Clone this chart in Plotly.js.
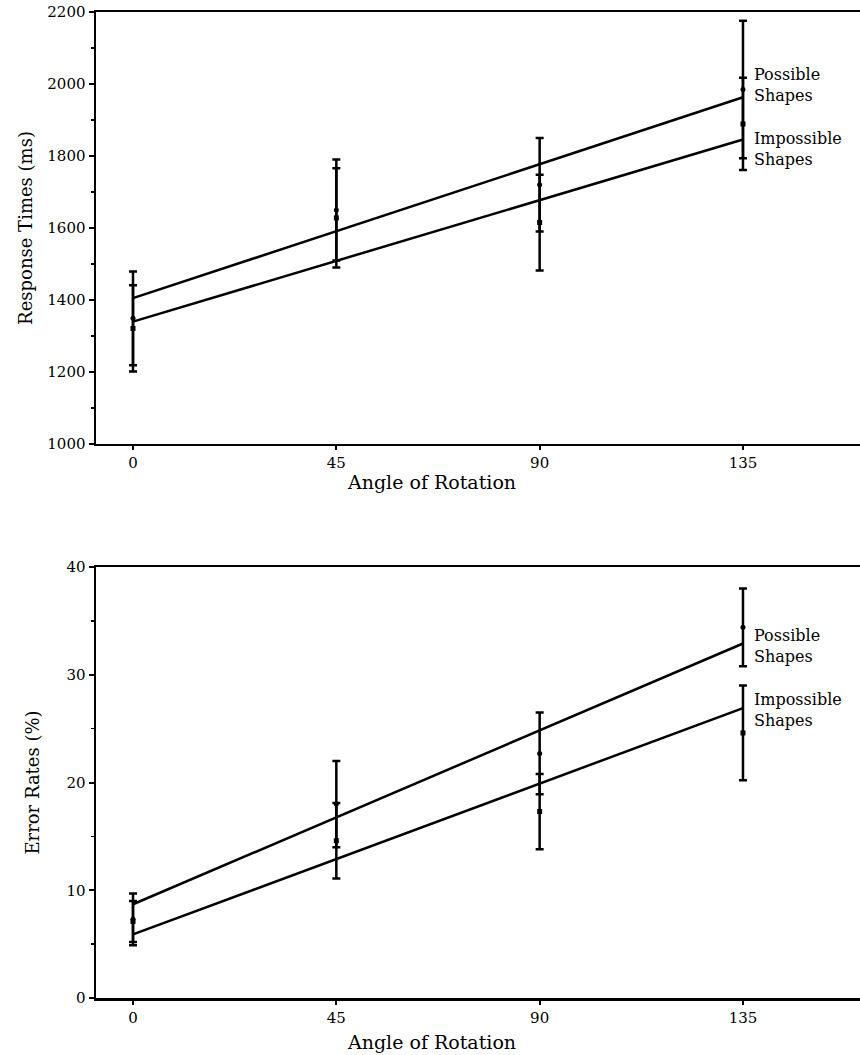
<!DOCTYPE html>
<html>
<head>
<meta charset="utf-8">
<script src="https://cdn.plot.ly/plotly-3.0.1.min.js"></script>
<style>html,body{margin:0;padding:0;background:#fff;}#chart{width:860px;height:1055px;}</style>
</head>
<body>
<div id="chart"></div>
<script>
// Data
var angles = [0, 45, 90, 135];
var fitAngles = [0, 135];

// Response times (ms)
var rtPossible = [1349, 1650, 1720, 1985];
var rtPossibleErr = [130, 140, 130, 191];
var rtImpossible = [1321, 1628, 1615, 1889];
var rtImpossibleErr = [120, 138, 133, 128];
var rtFitPossible = [1405, 1963];
var rtFitImpossible = [1340, 1846];

// Error rates (%)
var erPossible = [7.3, 18.0, 22.7, 34.4];
var erPossibleErr = [2.4, 4.0, 3.8, 3.6];
var erImpossible = [7.1, 14.6, 17.3, 24.6];
var erImpossibleErr = [1.9, 3.5, 3.5, 4.4];
var erFitPossible = [8.7, 32.9];
var erFitImpossible = [5.9, 26.9];

var xTickVals = [0, 45, 90, 135];
var xTickText = ['0', '45', '90', '135'];
var xTitle = 'Angle of Rotation';
var seriesLabels = ['Possible<br>Shapes', 'Impossible<br>Shapes'];

var FONT = 'DejaVu Serif, Liberation Serif, serif';

function pts(x, y, err, xa, ya, sym) {
  return {
    x: x, y: y, xaxis: xa, yaxis: ya, type: 'scatter', mode: 'markers',
    marker: {color: '#000', size: 5, symbol: sym},
    error_y: {type: 'data', array: err, visible: true, color: '#000', thickness: 2.5, width: 4},
    showlegend: false, hoverinfo: 'skip'
  };
}
function fit(x, y, xa, ya) {
  return {
    x: x, y: y, xaxis: xa, yaxis: ya, type: 'scatter', mode: 'lines',
    line: {color: '#000', width: 2.5}, showlegend: false, hoverinfo: 'skip'
  };
}

var data = [
  fit(fitAngles, rtFitPossible, 'x', 'y'),
  fit(fitAngles, rtFitImpossible, 'x', 'y'),
  pts(angles, rtPossible, rtPossibleErr, 'x', 'y', 'circle'),
  pts(angles, rtImpossible, rtImpossibleErr, 'x', 'y', 'square'),
  fit(fitAngles, erFitPossible, 'x2', 'y2'),
  fit(fitAngles, erFitImpossible, 'x2', 'y2'),
  pts(angles, erPossible, erPossibleErr, 'x2', 'y2', 'circle'),
  pts(angles, erImpossible, erImpossibleErr, 'x2', 'y2', 'square')
];

function xaxis(anchor) {
  return {
    anchor: anchor, range: [-8.19, 160.9], domain: [0, 1],
    tickvals: xTickVals, ticktext: xTickText,
    ticks: 'outside', ticklen: 4, tickwidth: 2, tickcolor: '#000',
    showline: true, linewidth: 2.5, linecolor: '#000', mirror: true,
    showgrid: false, zeroline: false,
    tickfont: {family: FONT, size: 15, color: '#000'}
  };
}

var annFont = {family: FONT, size: 16, color: '#000'};
var xTitleFont = {family: FONT, size: 19, color: '#000'};
var yTitleFont = {family: FONT, size: 18, color: '#000'};

var layout = {
  width: 860, height: 1055,
  margin: {l: 96, r: 0, t: 12, b: 57},
  paper_bgcolor: '#fff', plot_bgcolor: '#fff',
  font: {family: FONT, color: '#000'},
  xaxis: xaxis('y'),
  xaxis2: xaxis('y2'),
  yaxis: {
    anchor: 'x', domain: [0.5619, 1], range: [1000, 2200],
    tickvals: [1000, 1200, 1400, 1600, 1800, 2000, 2200],
    ticks: 'outside', ticklen: 5, tickwidth: 2, tickcolor: '#000',
    minor: {dtick: 100, ticks: 'outside', ticklen: 3, tickwidth: 1.5, tickcolor: '#000'},
    showline: true, linewidth: 2.5, linecolor: '#000', mirror: false,
    showgrid: false, zeroline: false,
    tickfont: {family: FONT, size: 15, color: '#000'},
    title: {text: 'Response Times (ms)', font: yTitleFont, standoff: 10}
  },
  yaxis2: {
    anchor: 'x2', domain: [0, 0.4371], range: [0, 40],
    tickvals: [0, 10, 20, 30, 40],
    ticks: 'outside', ticklen: 5, tickwidth: 2, tickcolor: '#000',
    minor: {dtick: 5, ticks: 'outside', ticklen: 3, tickwidth: 1.5, tickcolor: '#000'},
    showline: true, linewidth: 2.5, linecolor: '#000', mirror: false,
    showgrid: false, zeroline: false,
    tickfont: {family: FONT, size: 15, color: '#000'},
    title: {text: 'Error Rates (%)', font: yTitleFont, standoff: 22}
  },
  annotations: [
    {xref: 'x', yref: 'y domain', x: 66, y: 0, yshift: -38, text: xTitle, showarrow: false, xanchor: 'center', yanchor: 'middle', font: xTitleFont},
    {xref: 'x2', yref: 'y2 domain', x: 66, y: 0, yshift: -44, text: xTitle, showarrow: false, xanchor: 'center', yanchor: 'middle', font: xTitleFont},
    {xref: 'x', yref: 'y', x: 137, y: 1996, text: seriesLabels[0], showarrow: false, xanchor: 'left', yanchor: 'middle', align: 'left', font: annFont},
    {xref: 'x', yref: 'y', x: 137, y: 1820, text: seriesLabels[1], showarrow: false, xanchor: 'left', yanchor: 'middle', align: 'left', font: annFont},
    {xref: 'x2', yref: 'y2', x: 137, y: 32.7, text: seriesLabels[0], showarrow: false, xanchor: 'left', yanchor: 'middle', align: 'left', font: annFont},
    {xref: 'x2', yref: 'y2', x: 137, y: 26.7, text: seriesLabels[1], showarrow: false, xanchor: 'left', yanchor: 'middle', align: 'left', font: annFont}
  ]
};

Plotly.newPlot('chart', data, layout, {staticPlot: true, displayModeBar: false});
</script>
</body>
</html>
